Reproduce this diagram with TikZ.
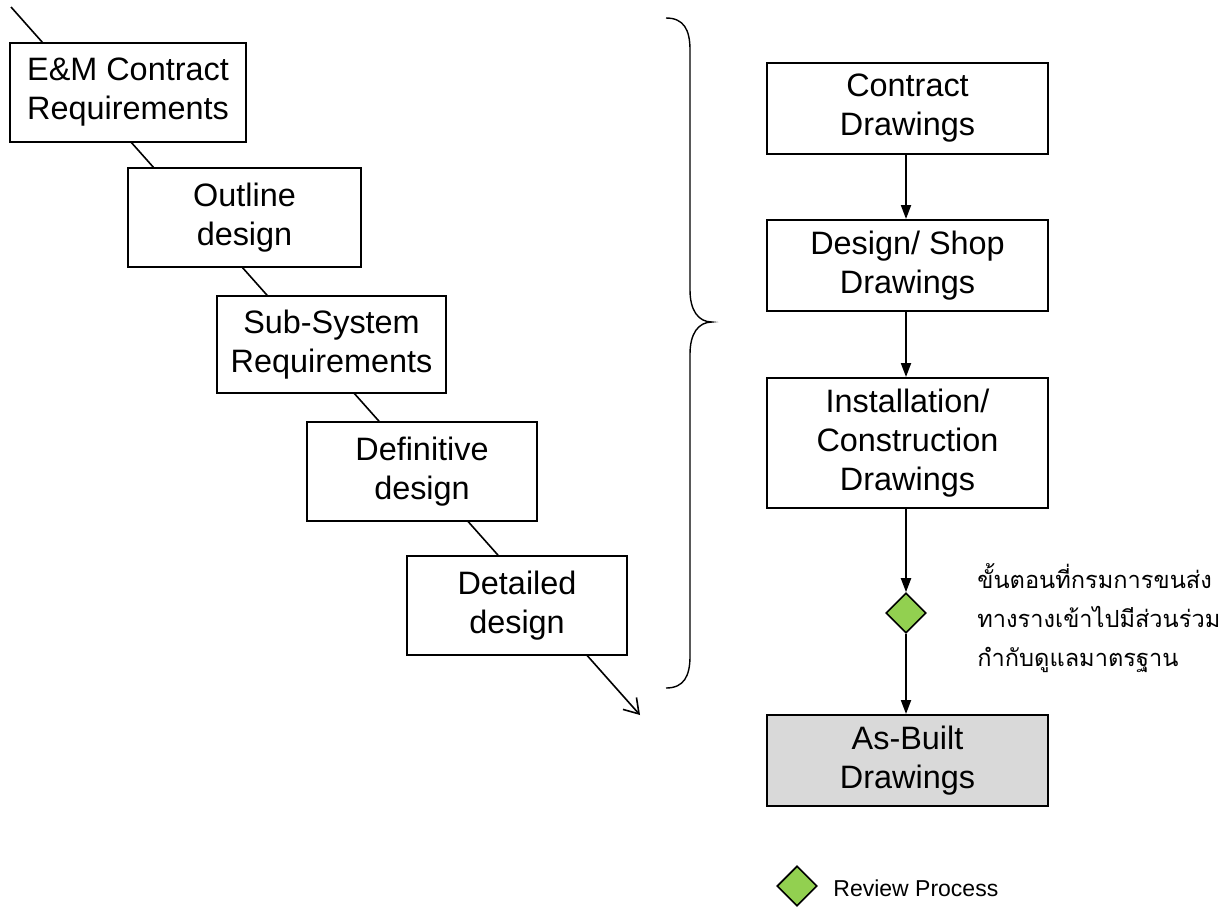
\documentclass[tikz,border=0pt]{standalone}
\usepackage{fontspec}
\setmainfont{Liberation Sans}
\newfontfamily\thaifont[Script=Thai]{Loma}
\usetikzlibrary{arrows.meta,shapes.geometric}

\definecolor{reviewgreen}{RGB}{146,208,80}
\definecolor{builtgray}{RGB}{217,217,217}

\tikzset{
    stage/.style={draw, line width=1pt, fill=white, align=center, inner sep=0pt,
        font=\fontsize{16.2}{19.5}\selectfont},
    drawing/.style={stage, minimum width=140.5pt, minimum height=45.5pt},
    review/.style={diamond, draw, line width=0.8pt, fill=reviewgreen, inner sep=0pt,
        minimum width=20pt, minimum height=20pt},
    flow/.style={line width=1pt, -{Triangle[length=7pt,width=5pt]}}
}

\begin{document}
\begin{tikzpicture}[x=0.5pt,y=-0.5pt]
    \useasboundingbox (0,0) rectangle (1224,907);

    % design stages, left side
    \coordinate (start) at (11,7);
    \coordinate (finish) at (640,715);
    \draw[line width=0.8pt, -{Straight Barb[length=7pt,width=9pt]}] (start) -- (finish);

    \node[stage, minimum width=118pt, minimum height=49.5pt] (em) at (128,92.5) {E\&M Contract\\Requirements};
    \node[stage, minimum width=116.5pt, minimum height=49.5pt] (outline) at (244.5,217.5) {Outline\\design};
    \node[stage, minimum width=114.5pt, minimum height=48.5pt] (subsys) at (331.5,344.5) {Sub-System\\Requirements};
    \node[stage, minimum width=115pt, minimum height=49.5pt] (definitive) at (422,471.5) {Definitive\\design};
    \node[stage, minimum width=110pt, minimum height=49.5pt] (detailed) at (517,605.5) {Detailed\\design};

    % brace
    \draw[line width=0.7pt] (666,18) .. controls (684,18) and (690,30) .. (690,50) -- (690,290)
        .. controls (690,310) and (698,322) .. (712,322)
        .. controls (698,322) and (690,334) .. (690,354) -- (690,656)
        .. controls (690,676) and (684,688) .. (666,688);

    % drawings, right side
    \node[drawing] (contract) at (907.5,108.5) {Contract\\Drawings};
    \node[drawing] (shop) at (907.5,265.5) {Design/ Shop\\Drawings};
    \node[drawing, minimum height=65pt] (install) at (907.5,443) {Installation/\\Construction\\Drawings};
    \node[review] (check) at (906,613) {};
    \node[drawing, fill=builtgray] (asbuilt) at (907.5,760.5) {As-Built\\Drawings};

    \draw[flow] (contract.south -| check) -- (shop.north -| check);
    \draw[flow] (shop.south -| check) -- (install.north -| check);
    \draw[flow] (install.south -| check) -- (check.north);
    \draw[flow] (check.south) -- (asbuilt.north -| check);

    \node[anchor=north west, align=left, inner sep=0pt, font=\thaifont\fontsize{11.8}{19.5}\selectfont] (note) at (977,563)
        {ขั้นตอนที่กรมการขนส่ง\\ทางรางเข้าไปมีส่วนร่วม\\กำกับดูแลมาตรฐาน};

    % legend
    \node[review] (key) at (797,886) {};
    \node[anchor=west, inner sep=0pt, font=\fontsize{11.5}{13}\selectfont] (keytext) at (833,888) {Review Process};
\end{tikzpicture}
\end{document}
